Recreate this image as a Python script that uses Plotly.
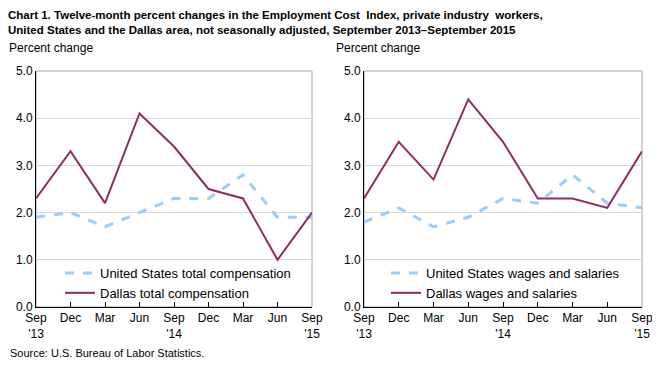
import plotly.graph_objects as go

tick_labels = ["Sep<br>'13", "Dec", "Mar", "Jun", "Sep<br>'14", "Dec", "Mar", "Jun", "Sep<br>'15"]
periods = list(range(9))

us_total = [1.9, 2.0, 1.7, 2.0, 2.3, 2.3, 2.8, 1.9, 1.9]
dallas_total = [2.3, 3.3, 2.2, 4.1, 3.4, 2.5, 2.3, 1.0, 2.0]
us_wages = [1.8, 2.1, 1.7, 1.9, 2.3, 2.2, 2.8, 2.2, 2.1]
dallas_wages = [2.3, 3.5, 2.7, 4.4, 3.5, 2.3, 2.3, 2.1, 3.3]

US_COLOR = "#99CCFF"
DAL_COLOR = "#8E2D5E"
FONT = "Liberation Sans, Arial, sans-serif"

fig = go.Figure()
fig.add_trace(go.Scatter(x=periods, y=us_total, mode="lines", name="United States total compensation",
                         line=dict(color=US_COLOR, width=3, dash="dash"), xaxis="x", yaxis="y", legend="legend"))
fig.add_trace(go.Scatter(x=periods, y=dallas_total, mode="lines", name="Dallas total compensation",
                         line=dict(color=DAL_COLOR, width=2), xaxis="x", yaxis="y", legend="legend"))
fig.add_trace(go.Scatter(x=periods, y=us_wages, mode="lines", name="United States wages and salaries",
                         line=dict(color=US_COLOR, width=3, dash="dash"), xaxis="x2", yaxis="y2", legend="legend2"))
fig.add_trace(go.Scatter(x=periods, y=dallas_wages, mode="lines", name="Dallas wages and salaries",
                         line=dict(color=DAL_COLOR, width=2), xaxis="x2", yaxis="y2", legend="legend2"))

# page body has an 8px margin; figure is sized to fit the window
OFF = 8
W, H = 660 - OFF, 365 - OFF
def px_x(v): return (v - OFF) / W
def px_y(v): return 1 - (v - OFF) / H

xcommon = dict(range=[0, 8], tickvals=periods, ticktext=tick_labels, showgrid=False, zeroline=False,
               showline=True, linecolor="black", linewidth=1, ticks="inside", ticklen=5,
               tickcolor="black", tickfont=dict(family=FONT, size=12, color="black"), fixedrange=True,
               automargin=False)
ycommon = dict(range=[0, 5], dtick=1, tickformat=".1f", showgrid=True, gridcolor="#D9D9D9", gridwidth=1,
               zeroline=False, showline=True, linecolor="black", linewidth=1, ticks="",
               tickfont=dict(family=FONT, size=12, color="black"), fixedrange=True, automargin=False)

ydom = [px_y(307), px_y(71)]
fig.update_layout(
    width=W, height=H, margin=dict(l=0, r=0, t=0, b=0, autoexpand=False),
    paper_bgcolor="white", plot_bgcolor="white",
    font=dict(family=FONT, size=12, color="black"),
    xaxis=dict(domain=[px_x(36), px_x(312)], anchor="y", **xcommon),
    yaxis=dict(domain=ydom, anchor="x", **ycommon),
    xaxis2=dict(domain=[px_x(364), px_x(642)], anchor="y2", **xcommon),
    yaxis2=dict(domain=ydom, anchor="x2", **ycommon),
    legend=dict(x=px_x(60), y=px_y(258), xanchor="left", yanchor="top", bgcolor="rgba(0,0,0,0)",
                font=dict(family=FONT, size=13, color="black"), tracegroupgap=0, itemwidth=30),
    legend2=dict(x=px_x(386), y=px_y(258), xanchor="left", yanchor="top", bgcolor="rgba(0,0,0,0)",
                 font=dict(family=FONT, size=13, color="black"), tracegroupgap=0, itemwidth=30),
    showlegend=True,
)

for xr, yr in [("x", "y"), ("x2", "y2")]:
    fig.add_shape(type="rect", xref=f"{xr} domain", yref=f"{yr} domain", x0=0, x1=1, y0=0, y1=1,
                  line=dict(color="#A6A6A6", width=1), layer="below")

fig.add_annotation(text="<b>Chart 1. Twelve-month percent changes in the Employment Cost  Index, private industry  workers,<br>United States and the Dallas area, not seasonally adjusted, September 2013–September 2015</b>",
                   xref="paper", yref="paper", x=px_x(7), y=1, xanchor="left", yanchor="top",
                   align="left", showarrow=False, borderpad=0,
                   font=dict(family=FONT, size=11.5, color="black"))
fig.add_annotation(text="Percent change", xref="paper", yref="paper", x=px_x(7), y=px_y(48),
                   xanchor="left", yanchor="middle", showarrow=False, font=dict(family=FONT, size=12))
fig.add_annotation(text="Percent change", xref="paper", yref="paper", x=px_x(334), y=px_y(48),
                   xanchor="left", yanchor="middle", showarrow=False, font=dict(family=FONT, size=12))
fig.add_annotation(text="Source: U.S. Bureau of Labor Statistics.", xref="paper", yref="paper",
                   x=px_x(8), y=px_y(353), xanchor="left", yanchor="middle", showarrow=False,
                   font=dict(family=FONT, size=11))

fig.write_html("out.html")
